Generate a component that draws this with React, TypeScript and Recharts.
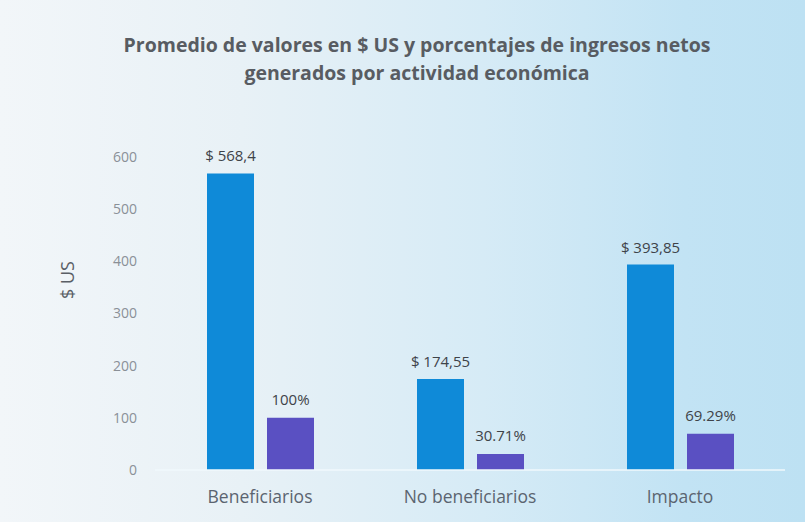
import { BarChart, Bar, XAxis, YAxis, LabelList } from 'recharts'

const categories = ['Beneficiarios', 'No beneficiarios', 'Impacto']
const usdValues = [568.4, 174.55, 393.85]
const pctValues = [100, 30.71, 69.29]
const yTicks = [0, 100, 200, 300, 400, 500, 600]

const chartData = categories.map((name, i) => ({
  name,
  usd: usdValues[i],
  pct: pctValues[i],
}))

const font = '"Open Sans", "Noto Sans", sans-serif'

// non-breaking space so the label does not wrap over the bar width
const formatUsd = (v: number) => `$\u00A0${String(v).replace('.', ',')}`
const formatPct = (v: number) => `${v}%`

export default function App() {
  return (
    <div
      style={{
        position: 'absolute',
        left: 0,
        top: 0,
        width: 805,
        height: 522,
        overflow: 'hidden',
        background:
          'linear-gradient(90deg, #f2f6f9 0%, #e8f1f6 30%, #d6ebf6 60%, #c2e3f4 85%, #bde1f3 100%)',
        fontFamily: font,
      }}
    >
      <div
        style={{
          position: 'absolute',
          left: 0,
          width: 834,
          top: 31,
          textAlign: 'center',
          fontSize: 19.5,
          fontWeight: 700,
          color: '#585c62',
          lineHeight: '28px',
        }}
      >
        Promedio de valores en $ US y porcentajes de ingresos netos
        <br />
        generados por actividad económica
      </div>

      {/* y axis title sits above the plot's middle in the original */}
      <div
        style={{
          position: 'absolute',
          left: 67,
          top: 280,
          transform: 'translate(-50%, -50%) rotate(-90deg)',
          fontSize: 18,
          color: '#5a5f66',
          whiteSpace: 'nowrap',
        }}
      >
        $ US
      </div>

      <BarChart
        width={805}
        height={522}
        data={chartData}
        margin={{ top: 157, right: 20, bottom: 22, left: 95 }}
        barSize={47}
        barGap={13}
        style={{ position: 'absolute', left: 0, top: 0 }}
      >
        <XAxis
          dataKey="name"
          height={30}
          axisLine={{ stroke: '#f1f8fc', strokeWidth: 1.5 }}
          tickLine={false}
          tickMargin={15}
          tick={{ fill: '#5b6470', fontSize: 17.5, fontFamily: font }}
        />
        <YAxis
          width={60}
          domain={[0, 600]}
          ticks={yTicks}
          axisLine={false}
          tickLine={false}
          tickMargin={12}
          tick={{ fill: '#8a9097', fontSize: 14, fontFamily: font }}
        />
        <Bar dataKey="usd" fill="#0f8ad8" isAnimationActive={false}>
          <LabelList
            dataKey="usd"
            position="top"
            offset={12}
            formatter={formatUsd}
            style={{ fill: '#3e4349', fontSize: 15, fontFamily: font }}
          />
        </Bar>
        <Bar dataKey="pct" fill="#5a50c2" isAnimationActive={false}>
          <LabelList
            dataKey="pct"
            position="top"
            offset={13}
            formatter={formatPct}
            style={{ fill: '#3e4349', fontSize: 15, fontFamily: font }}
          />
        </Bar>
      </BarChart>
    </div>
  )
}
